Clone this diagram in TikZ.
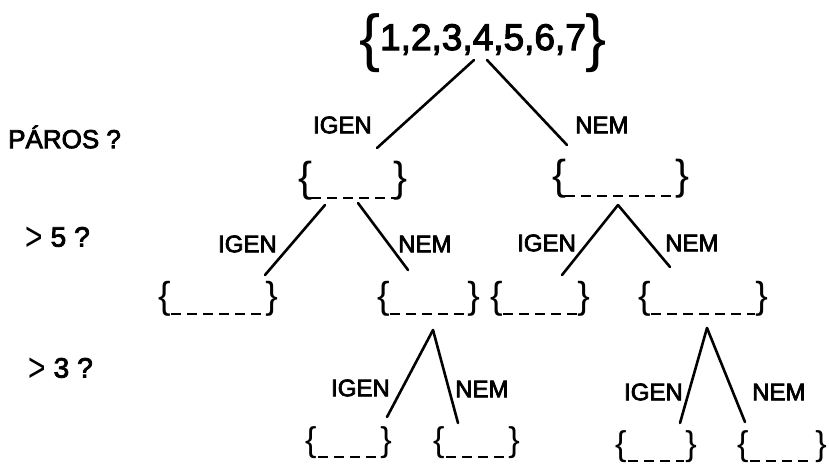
\documentclass[tikz,border=0pt]{standalone}
\usepackage{fontspec}
\usepackage{graphicx}
\setmainfont{Liberation Sans}
\newfontfamily\lettering{Liberation Sans}[FakeBold=3]
\tikzset{
  branch/.style={line width=2.6pt, line cap=round},
  answer/.style={font=\fontsize{24}{24}\selectfont\lettering, inner sep=0},
  question/.style={font=\fontsize{26}{26}\selectfont\lettering, inner sep=0},
  bracket/.style={inner sep=0},
  blanks/.style={line width=2.8pt, dash pattern=on 10pt off 6pt},
  setspan/.style={draw=none, inner sep=0, outer sep=0},
}
% A set with unknown members: { _ _ _ _ }
% #1 name, #2 left x, #3 right x, #4 top y, #5 bottom y (y grows downward)
\newcommand{\blankset}[5]{%
  \pgfmathsetlengthmacro\bsheight{#5-#4}%
  \node[setspan, minimum width={#3-#2}, minimum height={#5-#4}, anchor=north west] (#1) at (#2,#4) {};
  \node[bracket, anchor=south west] at (#1.south west) {\resizebox*{!}{\bsheight}{\{}};
  \node[bracket, anchor=south east] at (#1.south east) {\resizebox*{!}{\bsheight}{\}}};
  \draw[blanks] ([xshift=13pt, yshift=2pt]#1.south west) -- ([xshift=-13pt, yshift=2pt]#1.south east);
}
\newcommand{\bigless}{\raisebox{-0.17em}{\scalebox{1.15}[1.55]{\rmfamily >}}}
\begin{document}
\begin{tikzpicture}[x=1pt, y=-1pt]
  \fill[white] (0,0) rectangle (829,467);
  \useasboundingbox (0,0) rectangle (829,467);

  % questions asked at each level
  \node[question, anchor=west] (q1) at (8,137) {PÁROS ?};
  \node[question, anchor=west] (q2) at (25,239) {\bigless\hspace{8pt}\fontsize{28}{28}\selectfont 5\hspace{8pt}?};
  \node[question, anchor=west] (q3) at (28,370) {\bigless\hspace{8pt}\fontsize{28}{28}\selectfont 3\hspace{8pt}?};

  % the whole set
  \node[font=\fontsize{37}{37}\selectfont\lettering, inner sep=0, anchor=base] (root) at (483,50) {1,2,3,4,5,6,7};
  \node[bracket, anchor=north east] (root-open) at ([xshift=1pt]root.west |- 0,13) {\resizebox*{!}{59pt}{\{}};
  \node[bracket, anchor=north west] (root-close) at ([xshift=-1pt]root.east |- 0,13) {\resizebox*{!}{59pt}{\}}};

  % level 1
  \blankset{s1}{298}{408}{161}{200}
  \blankset{s2}{552}{690}{159}{198}
  % level 2
  \blankset{s11}{158}{278}{281}{316}
  \blankset{s12}{377}{480}{281}{316}
  \blankset{s21}{490}{590}{281}{316}
  \blankset{s22}{638}{768}{281}{316}
  % level 3
  \blankset{s121}{305}{392}{427}{459}
  \blankset{s122}{433}{520}{427}{459}
  \blankset{s221}{615}{697}{431}{463}
  \blankset{s222}{737}{827}{431}{463}

  % branch end points
  \coordinate (r-a) at (474,60);  \coordinate (s1-top) at (377,148);
  \coordinate (r-b) at (487,60);  \coordinate (s2-top) at (567,145);
  \coordinate (s1-a) at (325,205); \coordinate (s11-top) at (265,275);
  \coordinate (s1-b) at (358,203); \coordinate (s12-top) at (408,270);
  \coordinate (s2-a) at (618,205); \coordinate (s21-top) at (562,275);
  \coordinate (s22-top) at (670,267);
  \coordinate (s12-a) at (433,330); \coordinate (s121-top) at (387,417);
  \coordinate (s122-top) at (458,423);
  \coordinate (s22-a) at (707,328); \coordinate (s221-top) at (680,423);
  \coordinate (s222-top) at (745,422);

  % branches
  \draw[branch] (r-a) -- (s1-top);
  \draw[branch] (r-b) -- (s2-top);
  \draw[branch] (s1-a) -- (s11-top);
  \draw[branch] (s1-b) -- (s12-top);
  \draw[branch] (s2-a) -- (s21-top);
  \draw[branch] (s2-a) -- (s22-top);
  \draw[branch] (s12-a) -- (s121-top);
  \draw[branch] (s12-a) -- (s122-top);
  \draw[branch] (s22-a) -- (s221-top);
  \draw[branch] (s22-a) -- (s222-top);

  % yes / no answers
  \node[answer, anchor=east] (y1) at (372,125) {IGEN};
  \node[answer, anchor=west] (n1) at (575,125) {NEM};
  \node[answer, anchor=east] (y11) at (277,244) {IGEN};
  \node[answer, anchor=west] (n11) at (398,244) {NEM};
  \node[answer, anchor=west] (y21) at (517,243) {IGEN};
  \node[answer, anchor=west] (n21) at (665,243) {NEM};
  \node[answer, anchor=east] (y12) at (390,388) {IGEN};
  \node[answer, anchor=west] (n12) at (455,389) {NEM};
  \node[answer, anchor=east] (y22) at (683,392) {IGEN};
  \node[answer, anchor=west] (n22) at (752,392) {NEM};
\end{tikzpicture}
\end{document}
